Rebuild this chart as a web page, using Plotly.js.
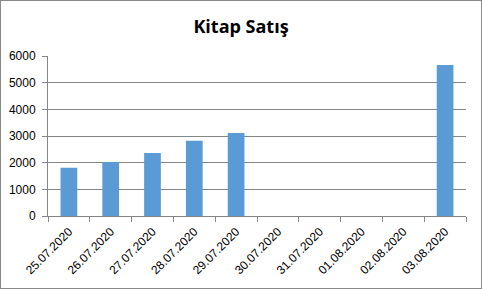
<!DOCTYPE html>
<html>
<head>
<meta charset="utf-8">
<script src="https://cdn.plot.ly/plotly-3.0.1.min.js"></script>
<style>
html,body{margin:0;padding:0;background:#fff;}
#frame{position:absolute;left:0;top:0;width:480px;height:287px;border:1px solid #898989;}
#chart{width:480px;height:287px;}
</style>
</head>
<body>
<div id="frame"><div id="chart"></div></div>
<script>
const dates = ["25.07.2020","26.07.2020","27.07.2020","28.07.2020","29.07.2020","30.07.2020","31.07.2020","01.08.2020","02.08.2020","03.08.2020"];
const sales = [1810, 2025, 2365, 2825, 3115, 0, 0, 0, 0, 5665];
const yTicks = [0, 1000, 2000, 3000, 4000, 5000, 6000];

const trace = {
  type: "bar",
  x: dates,
  y: sales,
  marker: {color: "#5b9bd5"},
  hoverinfo: "x+y"
};

const layout = {
  width: 480,
  height: 287,
  margin: {l: 47, r: 15, t: 55, b: 72, pad: 0},
  paper_bgcolor: "#ffffff",
  plot_bgcolor: "#ffffff",
  showlegend: false,
  bargap: 0.6,
  title: {
    text: "<b>Kitap Satış</b>",
    x: 0.5, xanchor: "center",
    y: 0.912, yanchor: "middle",
    font: {family: "Open Sans, Noto Sans, sans-serif", size: 18, color: "#000000"}
  },
  xaxis: {
    type: "category",
    tickangle: -45,
    tickson: "boundaries",
    ticks: "outside",
    ticklen: 5,
    tickcolor: "#868686",
    ticklabelstandoff: 3,
    showline: true,
    linecolor: "#868686",
    linewidth: 1,
    showgrid: false,
    tickfont: {family: "Liberation Sans, Arial, sans-serif", size: 12, color: "#000000"}
  },
  yaxis: {
    range: [0, 6000],
    tickvals: yTicks,
    ticktext: yTicks.map(String),
    ticks: "outside",
    ticklen: 5,
    tickcolor: "#868686",
    ticklabelstandoff: 4,
    showline: true,
    linecolor: "#868686",
    linewidth: 1,
    showgrid: true,
    gridcolor: "#868686",
    gridwidth: 1,
    zeroline: false,
    tickfont: {family: "Liberation Sans, Arial, sans-serif", size: 12, color: "#000000"}
  }
};

Plotly.newPlot("chart", [trace], layout, {displayModeBar: false, staticPlot: true});
</script>
</body>
</html>
